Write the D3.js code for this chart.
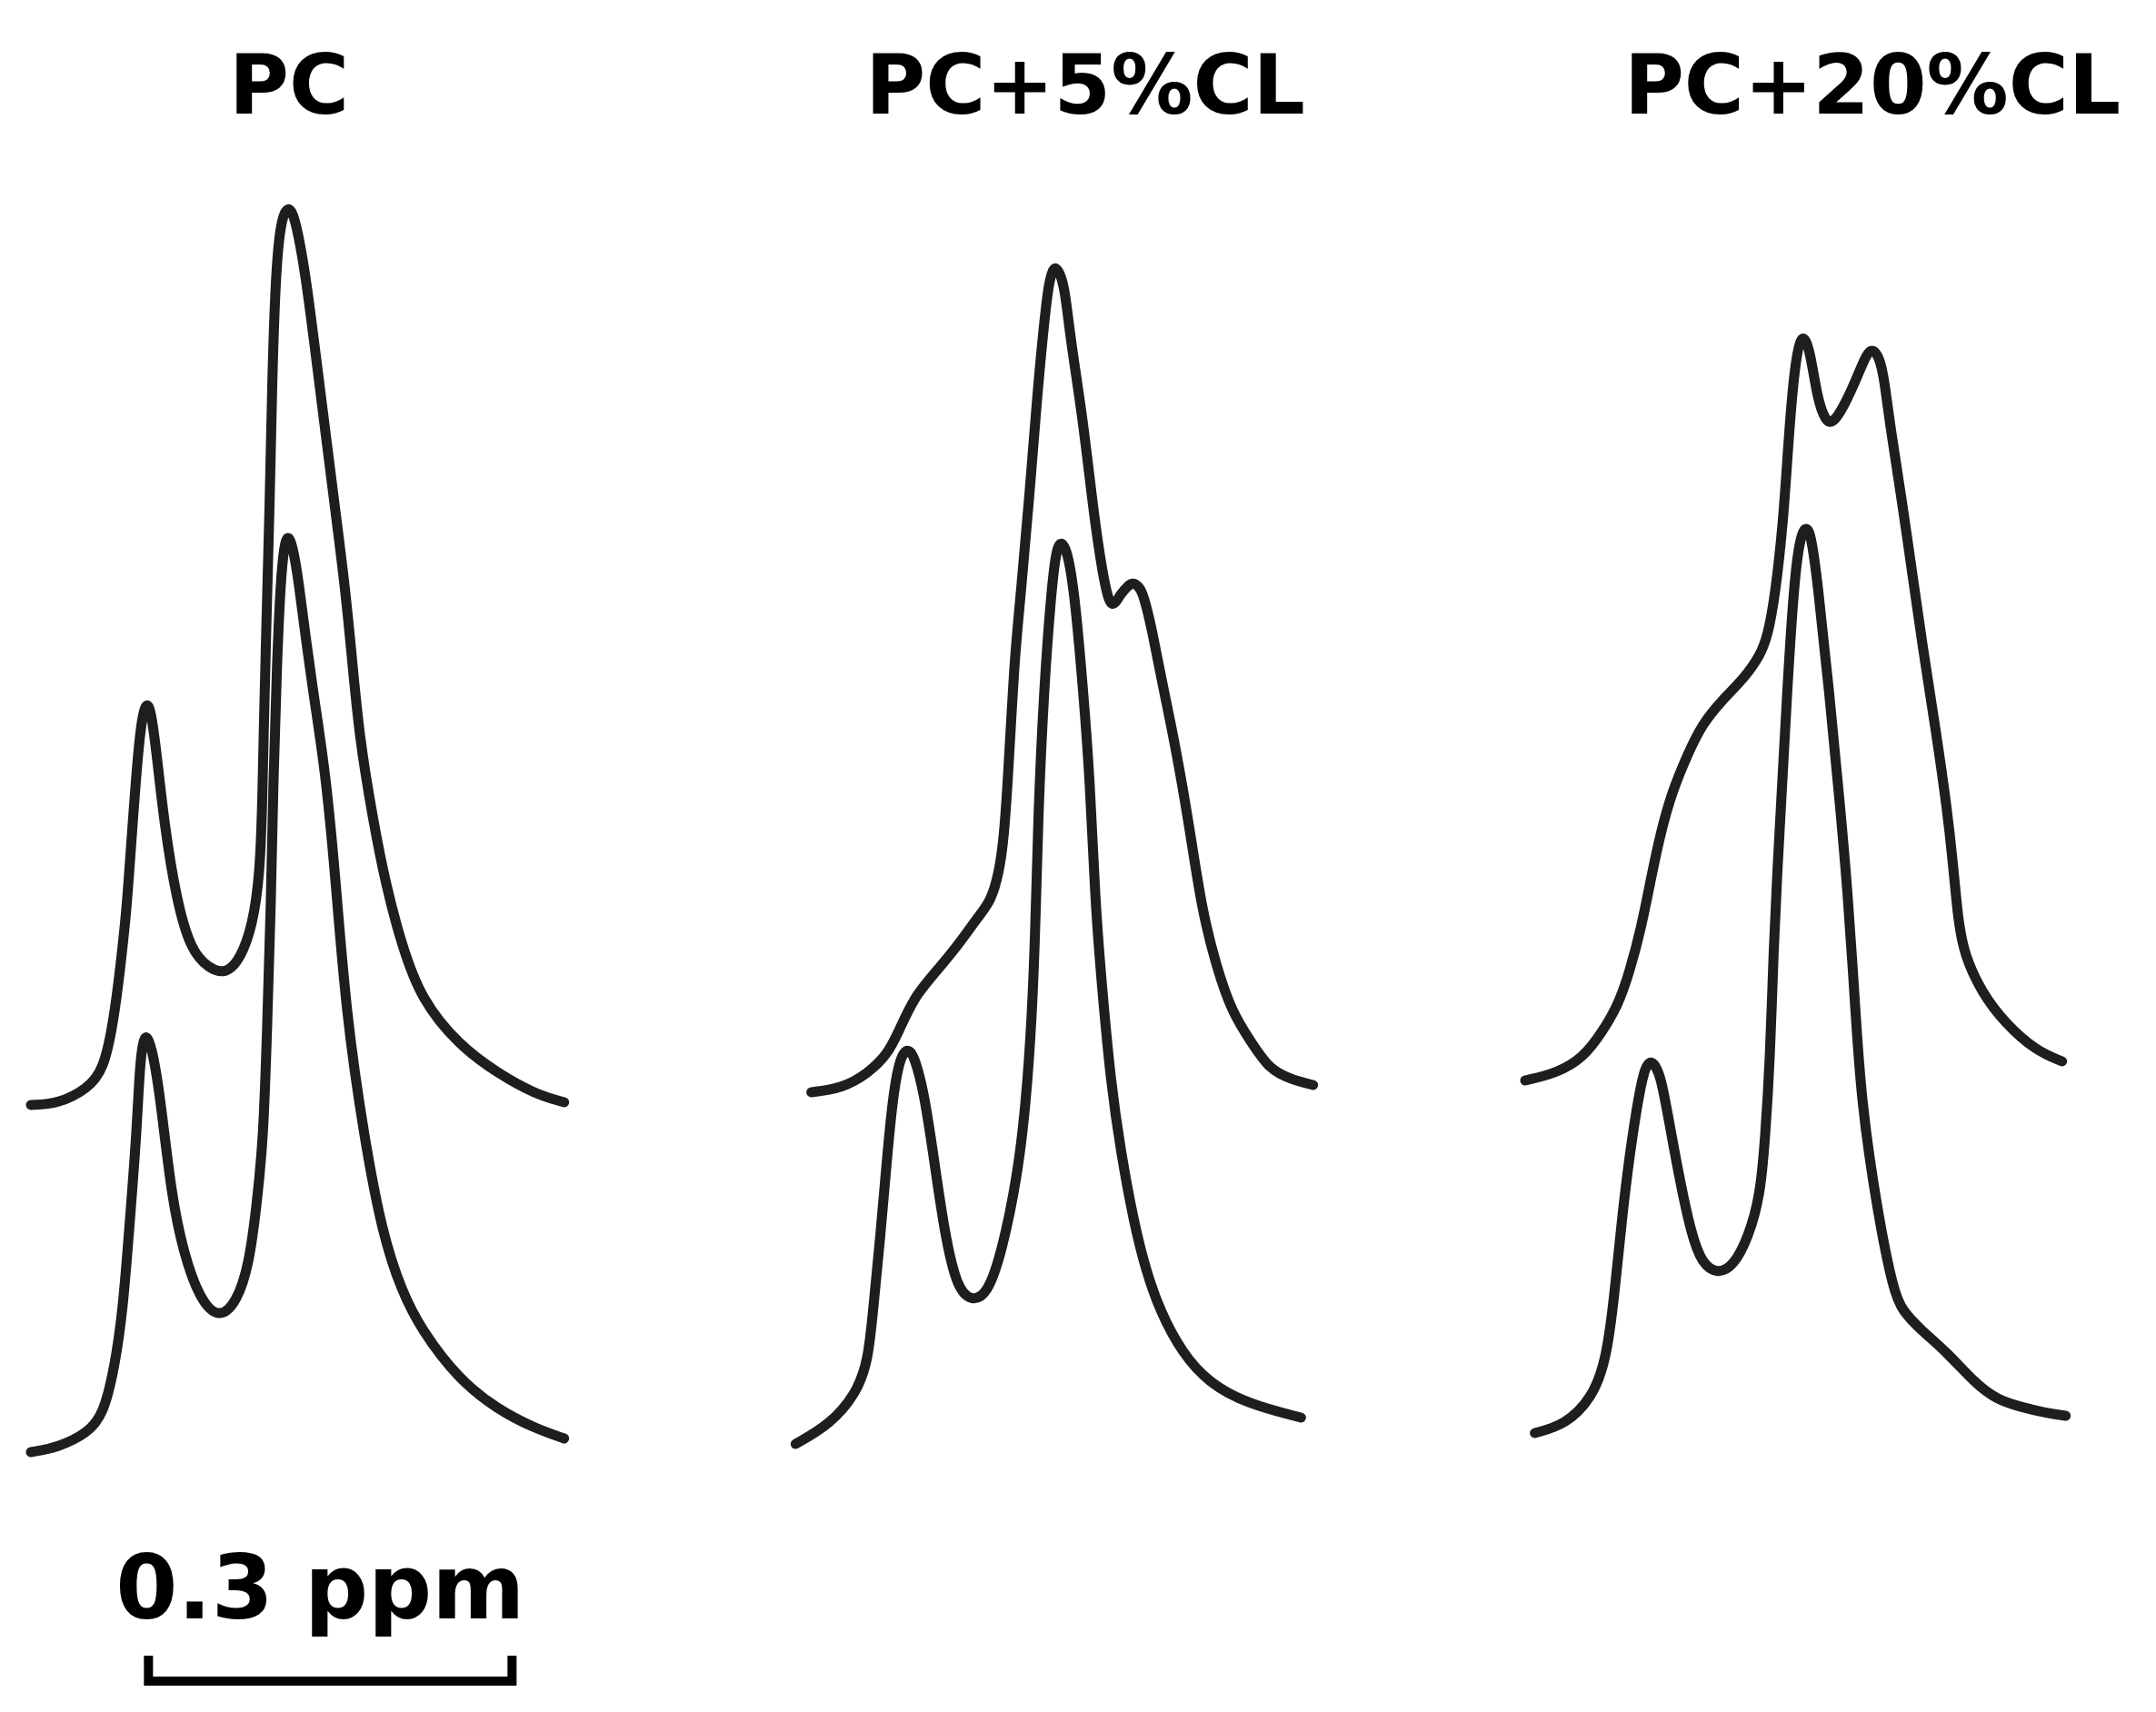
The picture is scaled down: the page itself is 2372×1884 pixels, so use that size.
<!DOCTYPE html>
<html>
<head>
<meta charset="utf-8">
<script src="https://cdn.jsdelivr.net/npm/d3@7"></script>
<style>
  html, body { margin: 0; padding: 0; background: #ffffff; }
  svg { display: block; }
</style>
</head>
<body>
<svg id="chart" width="2372" height="1884"></svg>
<script>
// ---------------- DATA ----------------
// Panel titles
const panelTitles = ["PC", "PC+5%CL", "PC+20%CL"];

// Each spectrum: [relative chemical shift (ppm, from panel's left edge), intensity (a.u., stacked)]
const pcUpper = [
  [0.003,3.84],[0.025,3.85],[0.050,4.02],[0.063,4.23],[0.071,4.74],[0.077,5.37],[0.082,6.00],
  [0.085,6.57],[0.090,7.50],[0.094,8.06],[0.098,8.28],[0.102,8.20],[0.107,7.68],[0.113,6.94],
  [0.123,6.10],[0.135,5.54],[0.150,5.34],[0.164,5.28],[0.176,5.45],[0.186,5.82],[0.192,6.38],
  [0.194,7.20],[0.195,7.89],[0.197,9.00],[0.200,10.40],[0.202,11.80],[0.205,13.00],[0.209,13.55],
  [0.214,13.72],[0.219,13.68],[0.224,13.40],[0.230,12.94],[0.238,12.10],[0.246,11.25],[0.254,10.40],
  [0.262,9.57],[0.268,8.75],[0.274,7.89],[0.285,7.00],[0.296,6.25],[0.309,5.60],[0.325,5.00],
  [0.356,4.50],[0.388,4.19],[0.419,3.96],[0.443,3.87]
];
const pcLower = [
  [0.003,0.02],[0.025,0.07],[0.050,0.23],[0.063,0.44],[0.072,0.95],[0.079,1.58],[0.085,2.63],
  [0.090,3.48],[0.093,4.32],[0.096,4.57],[0.099,4.61],[0.104,4.40],[0.110,3.90],[0.119,2.84],
  [0.129,2.21],[0.142,1.71],[0.158,1.48],[0.173,1.67],[0.183,2.09],[0.189,2.70],[0.195,3.48],
  [0.198,4.74],[0.201,6.00],[0.203,7.40],[0.206,8.70],[0.209,9.60],[0.212,10.00],[0.215,10.12],
  [0.219,10.00],[0.224,9.60],[0.230,8.95],[0.238,8.20],[0.246,7.50],[0.254,6.40],[0.263,4.85],
  [0.278,3.48],[0.293,2.42],[0.309,1.79],[0.325,1.37],[0.356,0.82],[0.388,0.49],[0.419,0.28],
  [0.443,0.17]
];
const cl5Upper = [
  [0.017,3.98],[0.042,4.02],[0.064,4.19],[0.080,4.40],[0.089,4.65],[0.102,5.03],[0.118,5.28],
  [0.137,5.58],[0.155,5.92],[0.165,6.08],[0.172,6.40],[0.176,6.80],[0.179,7.40],[0.182,8.10],
  [0.185,8.80],[0.190,9.50],[0.197,10.55],[0.203,11.60],[0.209,12.45],[0.213,12.90],[0.217,13.07],
  [0.221,13.03],[0.226,12.85],[0.231,12.24],[0.241,11.40],[0.250,10.34],[0.257,9.71],[0.263,9.33],
  [0.268,9.36],[0.272,9.46],[0.278,9.55],[0.282,9.59],[0.287,9.55],[0.291,9.46],[0.298,9.08],
  [0.307,8.45],[0.317,7.82],[0.329,6.90],[0.339,6.00],[0.351,5.37],[0.364,4.86],[0.380,4.53],
  [0.395,4.23],[0.413,4.12],[0.431,4.06]
];
const cl5Lower = [
  [0.004,0.11],[0.032,0.32],[0.054,0.66],[0.064,1.03],[0.068,1.60],[0.074,2.40],[0.079,3.20],
  [0.084,3.90],[0.089,4.30],[0.094,4.44],[0.098,4.44],[0.102,4.37],[0.110,3.98],[0.118,3.26],
  [0.127,2.42],[0.137,1.83],[0.149,1.68],[0.162,1.75],[0.174,2.21],[0.187,3.05],[0.194,3.85],
  [0.199,4.80],[0.202,5.84],[0.204,7.00],[0.209,8.45],[0.215,9.50],[0.219,9.95],[0.223,10.05],
  [0.228,9.95],[0.234,9.50],[0.241,8.45],[0.247,7.40],[0.251,6.10],[0.257,5.10],[0.264,4.10],
  [0.272,3.35],[0.283,2.55],[0.293,2.02],[0.305,1.56],[0.323,1.11],[0.345,0.78],[0.377,0.55],
  [0.421,0.40]
];
const cl20Upper = [
  [0.006,4.11],[0.032,4.19],[0.054,4.36],[0.070,4.65],[0.083,4.95],[0.092,5.30],[0.102,5.80],
  [0.110,6.35],[0.118,6.85],[0.127,7.28],[0.140,7.70],[0.152,8.03],[0.168,8.29],[0.187,8.54],
  [0.200,8.79],[0.206,9.00],[0.212,9.42],[0.219,10.26],[0.223,11.11],[0.228,11.95],[0.234,12.37],
  [0.241,12.16],[0.247,11.61],[0.254,11.36],[0.260,11.34],[0.269,11.53],[0.279,11.82],[0.288,12.12],
  [0.293,12.16],[0.298,12.07],[0.302,11.86],[0.307,11.32],[0.317,10.48],[0.326,9.63],[0.335,8.79],
  [0.345,7.95],[0.354,7.11],[0.359,6.50],[0.363,5.90],[0.368,5.50],[0.383,5.07],[0.402,4.74],
  [0.427,4.44],[0.449,4.32]
];
const cl20Lower = [
  [0.014,0.23],[0.039,0.32],[0.061,0.61],[0.073,1.03],[0.080,1.79],[0.086,2.63],[0.094,3.48],
  [0.102,4.11],[0.106,4.28],[0.110,4.32],[0.113,4.28],[0.118,4.15],[0.125,3.64],[0.133,3.05],
  [0.143,2.42],[0.152,2.09],[0.165,1.98],[0.178,2.07],[0.190,2.38],[0.200,2.84],[0.204,3.48],
  [0.208,4.32],[0.211,5.58],[0.214,6.40],[0.217,7.11],[0.222,8.37],[0.228,9.63],[0.233,10.10],
  [0.238,10.22],[0.242,10.10],[0.247,9.63],[0.257,8.37],[0.266,7.11],[0.272,6.20],[0.278,5.00],
  [0.283,3.90],[0.297,2.63],[0.310,1.79],[0.317,1.58],[0.332,1.37],[0.354,1.12],[0.377,0.78],
  [0.395,0.60],[0.414,0.52],[0.436,0.45],[0.452,0.42]
];

// Scale bar
const scaleBarStartPpm = 0.1;
const scaleBarLengthPpm = 0.3;
const scaleBarLabel = "0.3 ppm";

// ---------------- LAYOUT ----------------
const W = 2372, H = 1884;
const pxPerPpm = 1333.33;
const panelLeft = [30, 870, 1670];
const panelSpan = 0.46;
const titleCenterX = [318, 1194, 2060];
const titleBaseline = 125;
const strokeColor = "#1e1e1e";
const strokeW = 11;

const panels = [
  { title: panelTitles[0], spectra: [pcLower, pcUpper] },
  { title: panelTitles[1], spectra: [cl5Lower, cl5Upper] },
  { title: panelTitles[2], spectra: [cl20Lower, cl20Upper] }
];

const svg = d3.select("#chart");
svg.append("rect").attr("width", W).attr("height", H).attr("fill", "#ffffff");

const y = d3.scaleLinear().domain([0, 16]).range([1600, 0]);

const xScales = panels.map((p, i) =>
  d3.scaleLinear().domain([0, panelSpan]).range([panelLeft[i], panelLeft[i] + panelSpan * pxPerPpm])
);

panels.forEach((p, i) => {
  const x = xScales[i];
  const g = svg.append("g").attr("class", "panel");
  const line = d3.line()
    .x(d => x(d[0]))
    .y(d => y(d[1]))
    .curve(d3.curveBasis);

  g.selectAll("path.spectrum")
    .data(p.spectra)
    .join("path")
    .attr("class", "spectrum")
    .attr("d", line)
    .attr("fill", "none")
    .attr("stroke", strokeColor)
    .attr("stroke-width", strokeW)
    .attr("stroke-linecap", "round")
    .attr("stroke-linejoin", "round");

  g.append("text")
    .attr("x", titleCenterX[i])
    .attr("y", titleBaseline)
    .attr("text-anchor", "middle")
    .attr("font-family", "'DejaVu Sans', sans-serif")
    .attr("font-weight", "bold")
    .attr("font-size", 90)
    .attr("fill", "#000")
    .text(p.title);
});

// Scale bar (uses the first panel's ppm scale)
const xs = xScales[0];
const bx0 = xs(scaleBarStartPpm), bx1 = xs(scaleBarStartPpm + scaleBarLengthPpm);
const barTop = 1822, barBottom = 1850;
svg.append("path")
  .attr("d", `M${bx0},${barTop} V${barBottom} H${bx1} V${barTop}`)
  .attr("fill", "none")
  .attr("stroke", "#000")
  .attr("stroke-width", 10)
  .attr("stroke-linejoin", "miter")
  .attr("stroke-linecap", "butt");

svg.append("text")
  .attr("x", (bx0 + bx1) / 2 - 11)
  .attr("y", 1781)
  .attr("text-anchor", "middle")
  .attr("font-family", "'DejaVu Sans', sans-serif")
  .attr("font-weight", "bold")
  .attr("font-size", 98)
  .attr("fill", "#000")
  .text(scaleBarLabel);
</script>
</body>
</html>
